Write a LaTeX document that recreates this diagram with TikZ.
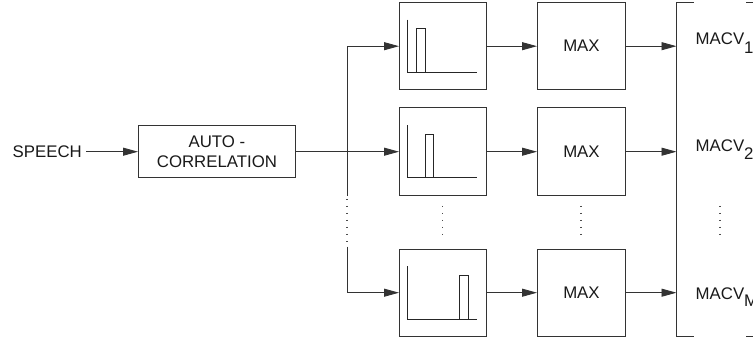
\documentclass[tikz,border=0pt]{standalone}
\usepackage{fontspec}
\setmainfont{Liberation Sans}
\usetikzlibrary{arrows.meta}
\begin{document}
\begin{tikzpicture}[x=1pt,y=-1pt,
  line/.style={draw=black!80, line width=0.9pt},
  arr/.style={line, -{Triangle[length=15pt,width=8pt]}},
  blk/.style={line, anchor=north west, minimum width=87pt, minimum height=87.5pt, inner sep=0pt},
  lbl/.style={font=\fontsize{16.8}{20}\selectfont, text=black!90, inner sep=0pt},
  plot/.style={draw=black!85, line width=0.8pt},
  dots/.style={draw=black!70, line width=1.2pt, dash pattern=on 1.2pt off 5.8pt}]
\useasboundingbox (0,0) rectangle (753,342);

% input and autocorrelation
\node[lbl, anchor=east] (sp) at (82,151.5) {SPEECH};
\node[line, anchor=north west, minimum width=157pt, minimum height=52pt, inner sep=0pt,
      lbl, align=center] (ac) at (138,125.25) {AUTO -\\CORRELATION};

% filter blocks
\node[blk] (f1) at (399,2) {};
\node[blk] (f2) at (399,107.5) {};
\node[blk] (f3) at (399,248.5) {};

% maximum blocks
\node[blk, minimum width=88pt, lbl] (m1) at (537,2) {};
\node[blk, minimum width=88pt] (m2) at (537,107.5) {};
\node[blk, minimum width=88pt] (m3) at (537,248.5) {};
\node[lbl] at (m1) {MAX};
\node[lbl] at (m2) {MAX};
\node[lbl] at (m3) {MAX};

% distribution bus
\coordinate (busx) at (347,0);
\coordinate (bd1) at (347,196);
\coordinate (bd2) at (347,199);
\coordinate (bd3) at (347,244);
\coordinate (bd4) at (347,246.5);
\draw[line] (f1.west -| busx) -- (bd1);
\draw[dots] (bd2) -- (bd3);
\draw[line] (bd4) -- (f3.west -| busx);

\draw[arr] ([xshift=4pt]sp.east |- ac.west) -- (ac.west);
\draw[arr] (ac.east) -- (f2.west);
\draw[arr] (f1.west -| busx) -- (f1.west);
\draw[arr] (f3.west -| busx) -- (f3.west);

% filter responses
\foreach \f/\bx in {f1/17.3, f2/26, f3/60.7} {
  \draw[plot] ([shift={(8.7,17.6)}]\f.north west) -- ++(0,52.8) -- ++(69,0);
  \draw[plot] ([shift={(\bx,26.5)}]\f.north west) rectangle ++(8.8,43.9);
}

\draw[arr] (f1) -- (m1);
\draw[arr] (f2) -- (m2);
\draw[arr] (f3) -- (m3);

% output bracket
\coordinate (bt) at (676.5,2);
\coordinate (bb) at (676.5,336.5);
\coordinate (btl) at (693.5,2);
\coordinate (bbl) at (693.5,336.5);
\coordinate (btr) at (746,2);
\coordinate (btr2) at (753,2);
\coordinate (bbr) at (746,336.5);
\coordinate (bbr2) at (753,336.5);
\draw[line] (btl) -- (bt) -- (bb) -- (bbl);
\draw[line] (btr) -- (btr2);
\draw[line] (bbr) -- (bbr2);

\draw[arr] (m1.east) -- (m1.east -| bt);
\draw[arr] (m2.east) -- (m2.east -| bt);
\draw[arr] (m3.east) -- (m3.east -| bt);

\node[lbl, anchor=base west] (v1) at (695.5,45) {MACV\raisebox{-8.5pt}{1}};
\node[lbl, anchor=base west] (v2) at (695.5,151.5) {MACV\raisebox{-8.5pt}{2}};
\node[lbl, anchor=base west] (v3) at (695.5,299.3) {MACV\raisebox{-7.5pt}{M}};

% ellipsis dots between rows
\coordinate (e1) at (442.5,206);
\coordinate (e2) at (442.5,237);
\coordinate (e3) at (581,206);
\coordinate (e4) at (581,237);
\coordinate (e5) at (720,206);
\coordinate (e6) at (720,237);
\draw[dots] (e1) -- (e2);
\draw[dots] (e3) -- (e4);
\draw[dots] (e5) -- (e6);
\end{tikzpicture}
\end{document}
